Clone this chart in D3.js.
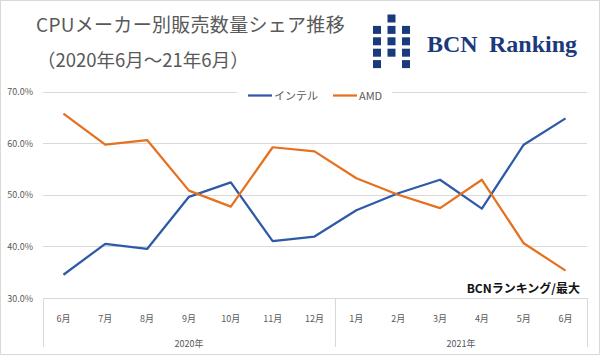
<!DOCTYPE html>
<html>
<head>
<meta charset="utf-8">
<script src="https://cdn.jsdelivr.net/npm/d3@7"></script>
<style>
  body { margin: 0; background: #fff; }
  svg { display: block; font-family: "Noto Sans CJK JP", "Noto Sans", sans-serif; }
</style>
</head>
<body>
<div id="chart"></div>
<script>
const months = ['6月', '7月', '8月', '9月', '10月', '11月', '12月', '1月', '2月', '3月', '4月', '5月', '6月'];
const years = [
    { label: '2020年', count: 7 },
    { label: '2021年', count: 6 }
];
const intel = [34.5, 40.5, 39.5, 49.6, 52.4, 41.0, 41.9, 47.0, 50.3, 52.9, 47.3, 59.7, 64.8];
const amd = [65.7, 59.7, 60.6, 50.8, 47.7, 59.2, 58.4, 53.2, 50.0, 47.4, 52.9, 40.6, 35.3];
const yTicks = [30, 40, 50, 60, 70];

const series = [
    { name: 'インテル', values: intel, color: '#2f5aa8' },
    { name: 'AMD', values: amd, color: '#e5711f' }
];

var width = 600, height = 355;

var svg = d3.select("#chart").append("svg")
    .attr("width", width)
    .attr("height", height);

// outer frame
svg.append("rect")
    .attr("x", 0.5).attr("y", 0.5)
    .attr("width", width - 1).attr("height", height - 1)
    .attr("fill", "#fff").attr("stroke", "#d9d9d9");

// title
svg.append("text")
    .attr("x", 36).attr("y", 32)
    .attr("font-size", 19).attr("fill", "#595959")
    .attr("letter-spacing", 0.3)
    .text("CPUメーカー別販売数量シェア推移");
svg.append("text")
    .attr("x", 37).attr("y", 67)
    .attr("font-size", 18.5).attr("fill", "#595959")
    .text("（2020年6月～21年6月）");

// logo squares: [col, row]
var logoCells = [[1, 0], [0, 1], [1, 1], [2, 1], [0, 2], [1, 2], [2, 2], [0, 3], [1, 3], [2, 3], [0, 4], [2, 4]];
svg.append("g").selectAll("rect")
    .data(logoCells).enter().append("rect")
    .attr("x", d => 373 + d[0] * 14.5)
    .attr("y", d => 14.5 + d[1] * 11.4)
    .attr("width", 8).attr("height", 8)
    .attr("fill", "#1b3a7c");
svg.append("text")
    .attr("x", 427).attr("y", 52)
    .attr("font-family", "Liberation Serif, serif").attr("font-weight", "bold")
    .attr("font-size", 24).attr("fill", "#1b3a7c")
    .text("BCN");
svg.append("text")
    .attr("x", 489).attr("y", 52)
    .attr("font-family", "Liberation Serif, serif").attr("font-weight", "bold")
    .attr("font-size", 24).attr("fill", "#1b3a7c")
    .text("Ranking");

// scales
var x = d3.scaleBand()
    .domain(d3.range(months.length))
    .range([42.5, 586.5]);

var y = d3.scaleLinear()
    .domain([30, 70])
    .range([298, 91.5]);

// gridlines
svg.append("g").selectAll("line")
    .data(yTicks.slice(1)).enter().append("line")
    .attr("x1", 43).attr("x2", 587)
    .attr("y1", d => Math.round(y(d)) + 0.5).attr("y2", d => Math.round(y(d)) + 0.5)
    .attr("stroke", "#d9d9d9");

// y labels
svg.append("g").selectAll("text")
    .data(yTicks).enter().append("text")
    .attr("x", 33).attr("y", d => y(d) + 3.5)
    .attr("text-anchor", "end")
    .attr("font-size", 9).attr("fill", "#595959")
    .text(d => d.toFixed(1) + "%");

// x axis baseline and group separators
svg.append("line")
    .attr("x1", 43).attr("x2", 587)
    .attr("y1", 298.5).attr("y2", 298.5)
    .attr("stroke", "#d9d9d9");

var bounds = [0];
years.forEach(yr => bounds.push(bounds[bounds.length - 1] + yr.count));
svg.append("g").selectAll("line")
    .data(bounds).enter().append("line")
    .attr("x1", d => Math.round(d < months.length ? x(d) : x.range()[1]) + 0.5)
    .attr("x2", d => Math.round(d < months.length ? x(d) : x.range()[1]) + 0.5)
    .attr("y1", 298).attr("y2", 347)
    .attr("stroke", "#d9d9d9");

svg.append("g").selectAll("text")
    .data(months).enter().append("text")
    .attr("x", (d, i) => x(i) + x.bandwidth() / 2)
    .attr("y", 322)
    .attr("text-anchor", "middle")
    .attr("font-size", 9).attr("fill", "#595959")
    .text(d => d);

svg.append("g").selectAll("text")
    .data(years).enter().append("text")
    .attr("x", (d, i) => {
        var a = x(bounds[i]);
        var b = bounds[i + 1] < months.length ? x(bounds[i + 1]) : x.range()[1];
        return (a + b) / 2;
    })
    .attr("y", 347)
    .attr("text-anchor", "middle")
    .attr("font-size", 9).attr("fill", "#595959")
    .text(d => d.label);

// lines
var line = d3.line()
    .x((d, i) => x(i) + x.bandwidth() / 2)
    .y(d => y(d));

svg.append("g").selectAll("path")
    .data(series).enter().append("path")
    .attr("d", d => line(d.values))
    .attr("fill", "none")
    .attr("stroke", d => d.color)
    .attr("stroke-width", 2.25)
    .attr("stroke-linejoin", "round");

// legend
var legend = svg.append("g");
legend.append("rect")
    .attr("x", 237).attr("y", 86).attr("width", 155).attr("height", 18)
    .attr("fill", "#fff");
var legendX = [248, 333];
series.forEach((s, i) => {
    legend.append("line")
        .attr("x1", legendX[i]).attr("x2", legendX[i] + 24)
        .attr("y1", 95.5).attr("y2", 95.5)
        .attr("stroke", s.color).attr("stroke-width", 2.25);
    legend.append("text")
        .attr("x", legendX[i] + 26).attr("y", 99.5)
        .attr("font-size", 11).attr("fill", "#595959")
        .text(s.name);
});

// source note
svg.append("text")
    .attr("x", 580).attr("y", 293)
    .attr("text-anchor", "end")
    .attr("font-size", 12).attr("font-weight", "bold").attr("fill", "#111")
    .text("BCNランキング/最大");
</script>
</body>
</html>
